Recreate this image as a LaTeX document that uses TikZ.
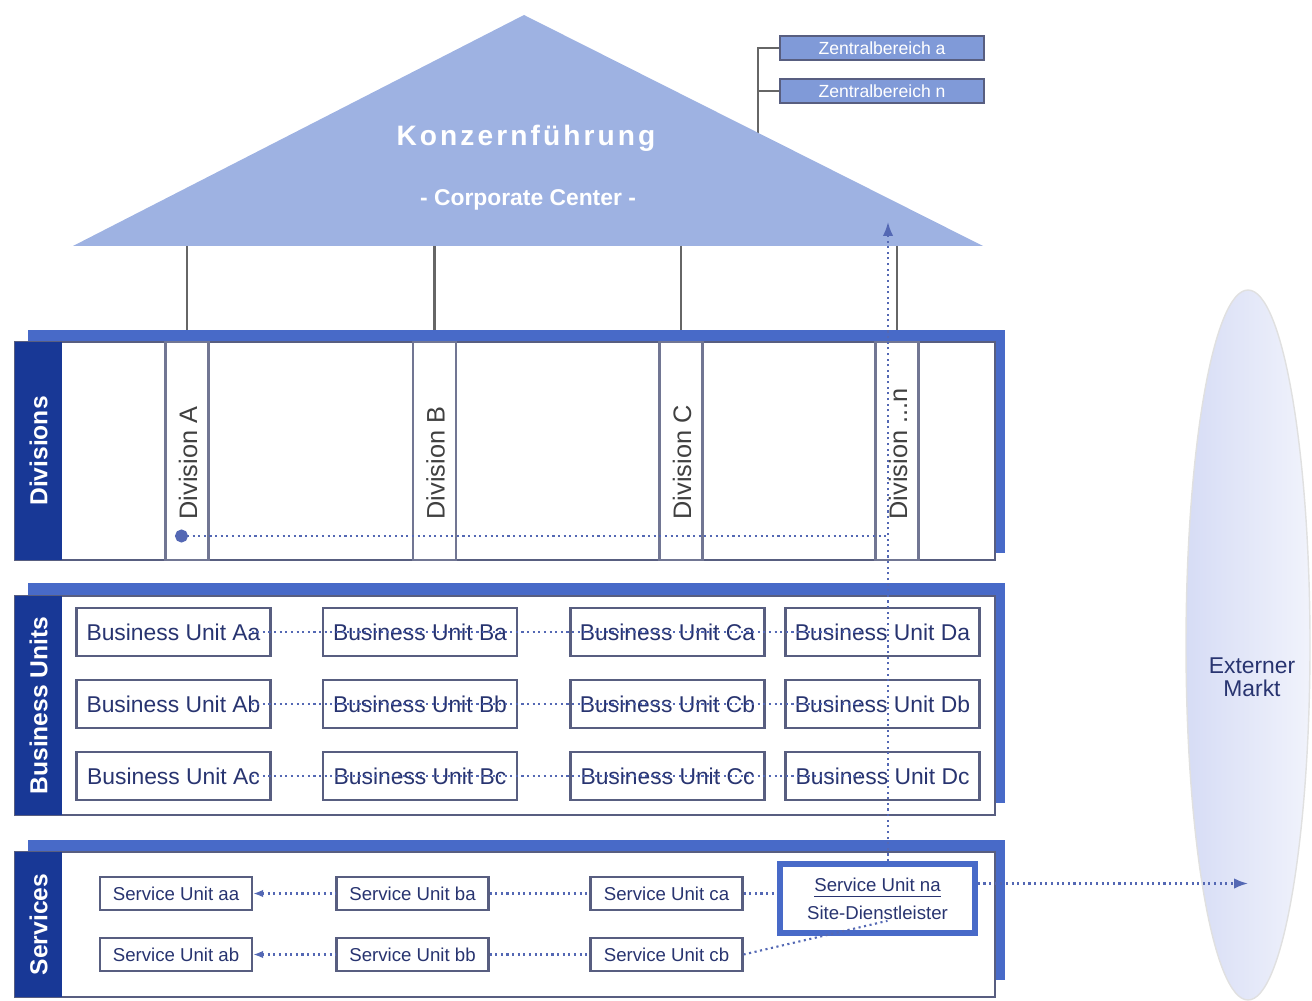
\documentclass[tikz,border=0pt]{standalone}
\usepackage{fontspec}
\setmainfont{Liberation Sans}
\usetikzlibrary{arrows.meta,positioning,shapes.geometric}

\definecolor{roofblue}{RGB}{158,178,226}
\definecolor{stripblue}{RGB}{24,56,150}
\definecolor{frameblue}{RGB}{72,106,200}
\definecolor{boxline}{RGB}{88,94,128}
\definecolor{unittext}{RGB}{40,52,112}
\definecolor{linkblue}{RGB}{84,104,180}
\definecolor{zbfill}{RGB}{128,154,216}
\definecolor{mktfill}{RGB}{214,220,245}

\newcommand{\sizept}[1]{\fontsize{#1}{#1}\selectfont}

\begin{document}
\begin{tikzpicture}[
  x=0.1mm, y=-0.1mm,
  >={Latex[length=1.4mm]},
  panel/.style={draw=boxline, fill=white, line width=.7pt},
  backbar/.style={fill=frameblue},
  strip/.style={fill=stripblue, text=white, rotate=90, inner sep=0pt,
                font=\sizept{7}\bfseries},
  divcol/.style={draw=boxline!85, line width=.6pt, minimum width=4.3mm,
                 minimum height=21.8mm, inner sep=0pt},
  divlabel/.style={rotate=90, anchor=west, inner sep=0pt,
                   font=\sizept{7.2}, text=black!75},
  bunit/.style={draw=boxline, line width=.6pt, minimum width=19.4mm,
                minimum height=4.8mm, inner sep=0pt,
                font=\sizept{6.5}, text=unittext},
  sunit/.style={draw=boxline, line width=.6pt, minimum width=15.2mm,
                minimum height=3.3mm, inner sep=0pt,
                font=\sizept{5.3}, text=unittext},
  zbox/.style={draw=boxline, fill=zbfill, line width=.6pt,
               minimum width=20.4mm, minimum height=2.4mm, inner sep=0pt,
               text=white, font=\sizept{5}},
  link/.style={densely dotted, line width=.6pt, draw=linkblue},
  roofline/.style={draw=black!60, line width=.6pt}
]
\useasboundingbox (0,0) rectangle (1312,1001);

% ---------- external market ----------
\node[ellipse, minimum width=12.4mm, minimum height=71mm, draw=black!12,
      left color=mktfill, right color=mktfill!35] (mkt) at (1248,645) {};
\node[font=\sizept{6.5}, text=unittext, align=center] (mkttxt) at (1252,677)
  {Externer\\Markt};

% ---------- roof: corporate center ----------
\coordinate (zroot) at (758,133);
\node[zbox] (za) at (882,48) {Zentralbereich a};
\node[zbox] (zn) at (882,91) {Zentralbereich n};
\draw[roofline] (zroot) |- (za.west);
\draw[roofline] (zroot) |- (zn.west);

\fill[roofblue] (73,246) -- (524,15) -- (983,246) -- cycle;
\node[text=white, font=\sizept{8}\bfseries\addfontfeature{LetterSpace=11}]
  (kf) at (526,138) {Konzernführung};
\node[text=white, font=\sizept{6.5}\bfseries] (cc) at (528,200)
  {- Corporate Center -};

\coordinate (rA) at (187,246);
\coordinate (rB) at (434.5,246);
\coordinate (rC) at (681,246);
\coordinate (rN) at (897,246);

% ---------- divisions ----------
\node[divcol] (dA) at (187,451) {};
\node[divcol] (dB) at (434.5,451) {};
\node[divcol] (dC) at (681,451) {};
\node[divcol] (dN) at (897,451) {};
\draw[roofline] (rA) -- (dA.north);
\draw[roofline] (rB) -- (dB.north);
\draw[roofline] (rC) -- (dC.north);
\draw[roofline] (rN) -- (dN.north);

\fill[backbar] (28,330) rectangle (1005,553);
\draw[panel] (15,342) rectangle (995,560);
\node[strip, minimum width=21.8mm, minimum height=4.7mm] (sDiv) at (38.5,451)
  {Divisions};

\node[divcol] at (dA) {};
\node[divcol] at (dB) {};
\node[divcol] at (dC) {};
\node[divcol] at (dN) {};
\node[divlabel] (lA) at (188,520) {Division A};
\node[divlabel] (lB) at (435.5,520) {Division B};
\node[divlabel] (lC) at (682,520) {Division C};
\node[divlabel] (lN) at (898,520) {Division ...n};

% ---------- business units ----------
\fill[backbar] (28,583) rectangle (1005,803);
\draw[panel] (15,596) rectangle (995,815);
\node[strip, minimum width=21.9mm, minimum height=4.7mm] (sBU) at (38.5,705.5)
  {Business Units};

\node[bunit] (Aa) at (173.5,632) {Business Unit Aa};
\node[bunit] (Ba) at (420,632)   {Business Unit Ba};
\node[bunit] (Ca) at (667.5,632) {Business Unit Ca};
\node[bunit] (Da) at (882.5,632) {Business Unit Da};
\node[bunit] (Ab) at (173.5,704) {Business Unit Ab};
\node[bunit] (Bb) at (420,704)   {Business Unit Bb};
\node[bunit] (Cb) at (667.5,704) {Business Unit Cb};
\node[bunit] (Db) at (882.5,704) {Business Unit Db};
\node[bunit] (Ac) at (173.5,776) {Business Unit Ac};
\node[bunit] (Bc) at (420,776)   {Business Unit Bc};
\node[bunit] (Cc) at (667.5,776) {Business Unit Cc};
\node[bunit] (Dc) at (882.5,776) {Business Unit Dc};

\draw[link] ([xshift=-2mm]Aa.east) -- ([xshift=8mm]Da.west);
\draw[link] ([xshift=-2mm]Ab.east) -- ([xshift=8mm]Db.west);
\draw[link] ([xshift=-2mm]Ac.east) -- ([xshift=8mm]Dc.west);

% ---------- services ----------
\fill[backbar] (28,840) rectangle (1005,980);
\draw[panel] (15,852) rectangle (995,997);
\node[strip, minimum width=14.5mm, minimum height=4.7mm] (sSv) at (38.5,924.5)
  {Services};

\node[sunit] (saa) at (176,893.5)   {Service Unit aa};
\node[sunit] (sba) at (412.5,893.5) {Service Unit ba};
\node[sunit] (sca) at (666.5,893.5) {Service Unit ca};
\node[sunit] (sab) at (176,954.5)   {Service Unit ab};
\node[sunit] (sbb) at (412.5,954.5) {Service Unit bb};
\node[sunit] (scb) at (666.5,954.5) {Service Unit cb};
\node[sunit, draw=frameblue, line width=1.6pt, minimum width=19.5mm,
      minimum height=6.9mm, align=center] (na) at (877.5,898.5)
  {\underline{Service Unit na}\\[1pt]Site-Dienstleister};

\draw[link, <-, >={Latex[length=1mm]}] (saa) -- (sba);
\draw[link] (sba) -- (sca);
\draw[link] (sca.east) -- (sca.east -| na.west);
\draw[link, <-, >={Latex[length=1mm]}] (sab) -- (sbb);
\draw[link] (sbb) -- (scb);
\draw[link] (scb.east) -- ([xshift=1mm,yshift=1.5mm]na.south);

% ---------- flows ----------
\coordinate (cctip) at (888,222);
\coordinate (divdot) at (175,536);
\draw[link, ->] (na.north -| cctip) -- (cctip);
\draw[link, {Circle[length=1.3mm]}-] (divdot) -- (divdot -| cctip);
\draw[link, ->] ([yshift=1.5mm]na.east) -- ([yshift=1.5mm]na.east -| mkt.center);

\end{tikzpicture}
\end{document}
